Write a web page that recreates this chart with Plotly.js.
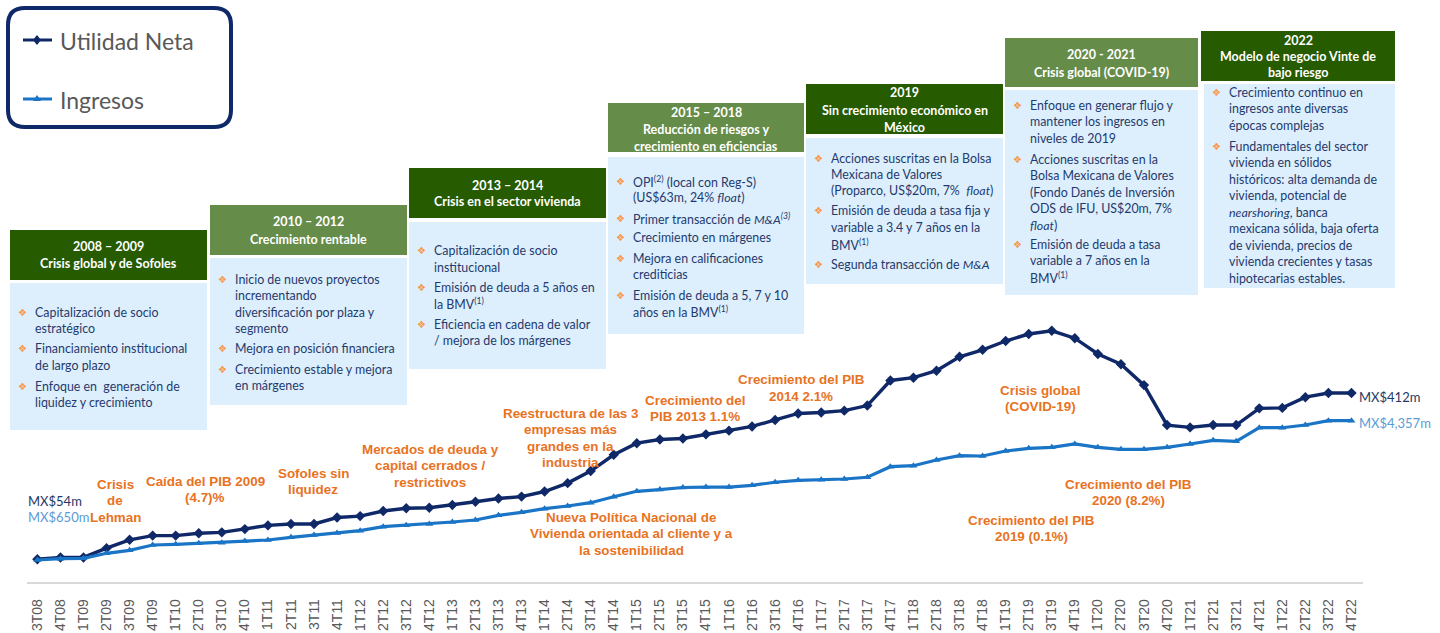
<!DOCTYPE html>
<html><head><meta charset="utf-8">
<script src="https://cdn.plot.ly/plotly-3.0.1.min.js"></script>
<style>html,body{margin:0;padding:0;background:#fff;} #chart{width:1440px;height:633px;}</style>
</head><body><div id="chart"></div>
<script>
const quarters = ["3T08","4T08","1T09","2T09","3T09","4T09","1T10","2T10","3T10","4T10","1T11","2T11","3T11","4T11","1T12","2T12","3T12","4T12","1T13","2T13","3T13","4T13","1T14","2T14","3T14","4T14","1T15","2T15","3T15","4T15","1T16","2T16","3T16","4T16","1T17","2T17","3T17","4T17","1T18","2T18","3T18","4T18","1T19","2T19","3T19","4T19","1T20","2T20","3T20","4T20","1T21","2T21","3T21","4T21","1T22","2T22","3T22","4T22"];
const utilidadNeta = [54,58,58,78,96,105,105,110,112,119,127,130,130,144,147,158,164,165,171,178,185,189,200,218,244,279,304,312,314,323,331,340,354,368,370,374,385,439,445,460,490,505,524,539,546,530,496,474,429,343,338,343,343,379,380,403,412,412];
const ingresos = [650,685,695,828,908,1049,1068,1094,1110,1156,1182,1254,1315,1368,1430,1536,1573,1608,1661,1714,1839,1919,2015,2087,2175,2334,2478,2523,2579,2590,2590,2638,2718,2771,2787,2805,2851,3133,3159,3311,3425,3417,3550,3622,3649,3737,3649,3596,3596,3649,3737,3835,3809,4170,4170,4242,4357,4357];
const seriesNames = ["Utilidad Neta","Ingresos"];
const startLabels = ["MX$54m","MX$650m"];
const endLabels = ["MX$412m","MX$4,357m"];

const periods = [
  {head:["2008 – 2009","Crisis global y de Sofoles"], dark:true,
   bullets:[["Capitalización de socio","estratégico"],["Financiamiento institucional","de largo plazo"],["Enfoque en  generación de","liquidez y crecimiento"]]},
  {head:["2010 – 2012","Crecimiento rentable"], dark:false,
   bullets:[["Inicio de nuevos proyectos","incrementando","diversificación por plaza y","segmento"],["Mejora en posición financiera"],["Crecimiento estable y mejora","en márgenes"]]},
  {head:["2013 – 2014","Crisis en el sector vivienda"], dark:true,
   bullets:[["Capitalización de socio","institucional"],["Emisión de deuda a 5 años en","la BMV<sup>(1)</sup>"],["Eficiencia en cadena de valor","/ mejora de los márgenes"]]},
  {head:["2015 – 2018","Reducción de riesgos y","crecimiento en eficiencias"], dark:false,
   bullets:[["OPI<sup>(2)</sup> (local con Reg-S)","(US$63m, 24% <i>float</i>)"],["Primer transacción de <i>M&A<sup>(3)</sup></i>"],["Crecimiento en márgenes"],["Mejora en calificaciones","crediticias"],["Emisión de deuda a 5, 7 y 10","años en la BMV<sup>(1)</sup>"]]},
  {head:["2019","Sin crecimiento económico en","México"], dark:true,
   bullets:[["Acciones suscritas en la Bolsa","Mexicana de Valores","(Proparco, US$20m, 7%  <i>float</i>)"],["Emisión de deuda a tasa fija y","variable a 3.4 y 7 años en la","BMV<sup>(1)</sup>"],["Segunda transacción de <i>M&A</i>"]]},
  {head:["2020 - 2021","Crisis global (COVID-19)"], dark:false,
   bullets:[["Enfoque en generar flujo y","mantener los ingresos en","niveles de 2019"],["Acciones suscritas en la","Bolsa Mexicana de Valores","(Fondo Danés de Inversión","ODS de IFU, US$20m, 7%","<i>float</i>)"],["Emisión de deuda a tasa","variable a 7 años en la","BMV<sup>(1)</sup>"]]},
  {head:["2022","Modelo de negocio Vinte de","bajo riesgo"], dark:true,
   bullets:[["Crecimiento continuo en","ingresos ante diversas","épocas complejas"],["Fundamentales del sector","vivienda en sólidos","históricos: alta demanda de","vivienda, potencial de","<i>nearshoring</i>, banca","mexicana sólida, baja oferta","de vivienda, precios de","vivienda crecientes y tasas","hipotecarias estables."]]}
];

const events = [
  {text:["Crisis","de","Lehman"], x:115, y:484},
  {text:["Caída del PIB 2009","(4.7)%"], x:205, y:481},
  {text:["Sofoles sin","liquidez"], x:313, y:473},
  {text:["Mercados de deuda y","capital cerrados /","restrictivos"], x:430, y:449},
  {text:["Reestructura de las 3","empresas más","grandes en la","industria"], x:570, y:413},
  {text:["Crecimiento del","PIB 2013 1.1%"], x:695, y:400},
  {text:["Crecimiento del PIB","2014 2.1%"], x:801, y:380},
  {text:["Crisis global","(COVID-19)"], x:1040, y:390},
  {text:["Crecimiento del PIB","2020 (8.2%)"], x:1128, y:484},
  {text:["Crecimiento del PIB","2019 (0.1%)"], x:1031, y:520},
  {text:["Nueva Política Nacional de","Vivienda orientada al cliente y a","la sostenibilidad"], x:631, y:517}
];

// ---------- layout geometry (pixels) ----------
const L=27, T=20, W=1336, H=562;
const px = x => (x-L)/W;
const py = y => (T+H-y)/H;
const DARK="#0f2868", LIGHT="#1b75c6";
const GDARK="#265b00", GLIGHT="#668c4a", BODY="#ddeffc", NAVY="#1f3a6e", ORANGE="#e8731f";
const BODYFONT="Lato, 'Open Sans', sans-serif";

const boxGeom = [
  {x0:10,x1:207,hy0:230,hy1:280,by0:283,by1:430,hl:[246,263],bl:[312,349,386]},
  {x0:210,x1:407,hy0:205,hy1:255,by0:258,by1:405,hl:[222,239],bl:[279,348,369]},
  {x0:409,x1:606,hy0:168,hy1:218,by0:222,by1:369,hl:[185,202],bl:[251,287,324]},
  {x0:608,x1:804,hy0:103,hy1:152,by0:157,by1:334,hl:[112,129,146],bl:[181,218,238,258,295]},
  {x0:806,x1:1003,hy0:84,hy1:134,by0:138,by1:284,hl:[93,110,127],bl:[158,211,264]},
  {x0:1005,x1:1198,hy0:38,hy1:87,by0:90,by1:295,hl:[55,72],bl:[105,159,244]},
  {x0:1201,x1:1395,hy0:31,hy1:81,by0:84,by1:288,hl:[40,57,73],bl:[92,146]}
];
const LH=16.5;

const shapes=[], annotations=[];
function rect(x0,y0,x1,y1,color){
  shapes.push({type:'rect',xref:'paper',yref:'paper',x0:px(x0),x1:px(x1),y0:py(y1),y1:py(y0),fillcolor:color,line:{width:0},layer:'below'});
}
function txt(t,x,y,font,xanchor){
  annotations.push({text:t,xref:'paper',yref:'paper',x:px(x),y:py(y),xanchor:xanchor||'center',yanchor:'middle',showarrow:false,font:font,borderpad:0});
}

periods.forEach((p,i)=>{
  const g=boxGeom[i];
  rect(g.x0,g.hy0,g.x1,g.hy1,p.dark?GDARK:GLIGHT);
  const bx0 = i===6 ? 1204 : g.x0;
  rect(bx0,g.by0,g.x1,g.by1,BODY);
  const cx=(g.x0+g.x1)/2;
  p.head.forEach((line,k)=>txt('<b>'+line+'</b>',cx,g.hl[k],{family:BODYFONT,size:12.5,color:'#ffffff'}));
  p.bullets.forEach((b,k)=>{
    const y0=g.bl[k];
    txt('❖',bx0+12,y0,{family:'DejaVu Sans',size:10,color:'#f79646'},'center');
    b.forEach((line,m)=>txt(line,bx0+24,y0+m*LH,{family:BODYFONT,size:12.4,color:NAVY},'left'));
  });
});

events.forEach(e=>{
  e.text.forEach((line,m)=>txt('<b>'+line+'</b>',e.x,e.y+m*16.5,{family:"'Liberation Sans', Arial, sans-serif",size:13.4,color:ORANGE},'center'));
});

// start / end labels
txt(startLabels[0],27,501,{family:BODYFONT,size:13,color:'#1f3864'},'left');
txt(startLabels[1],27,517,{family:BODYFONT,size:13,color:'#5b9bd5'},'left');
txt(endLabels[0],1358,397,{family:BODYFONT,size:13,color:'#1f3864'},'left');
txt(endLabels[1],1358,423,{family:BODYFONT,size:13,color:'#5b9bd5'},'left');

// legend box
(function(){
  const x0=8,y0=8,x1=231,y1=127,r=17;
  const P=(x,y)=>px(x)+','+py(y);
  const path='M'+P(x0+r,y0)+' L'+P(x1-r,y0)+' Q'+P(x1,y0)+' '+P(x1,y0+r)+' L'+P(x1,y1-r)+' Q'+P(x1,y1)+' '+P(x1-r,y1)+' L'+P(x0+r,y1)+' Q'+P(x0,y1)+' '+P(x0,y1-r)+' L'+P(x0,y0+r)+' Q'+P(x0,y0)+' '+P(x0+r,y0)+' Z';
  shapes.push({type:'path',xref:'paper',yref:'paper',path:path,line:{color:DARK,width:4},fillcolor:'rgba(0,0,0,0)'});
  shapes.push({type:'line',xref:'paper',yref:'paper',x0:px(23),x1:px(52),y0:py(40),y1:py(40),line:{color:DARK,width:3}});
  shapes.push({type:'path',xref:'paper',yref:'paper',path:'M'+P(37,35)+' L'+P(41,40)+' L'+P(37,45)+' L'+P(33,40)+' Z',fillcolor:DARK,line:{width:0}});
  shapes.push({type:'line',xref:'paper',yref:'paper',x0:px(23),x1:px(52),y0:py(99),y1:py(99),line:{color:LIGHT,width:3}});
  shapes.push({type:'path',xref:'paper',yref:'paper',path:'M'+P(37,95)+' L'+P(41,101)+' L'+P(33,101)+' Z',fillcolor:LIGHT,line:{width:0}});
  txt(seriesNames[0],59,41,{family:BODYFONT,size:23,color:'#595959'},'left');
  txt(seriesNames[1],59,100,{family:BODYFONT,size:23,color:'#595959'},'left');
})();

const traces=[
  {x:quarters,y:ingresos,name:seriesNames[1],type:'scatter',mode:'lines+markers',yaxis:'y2',
   line:{color:LIGHT,width:3.2},marker:{symbol:'triangle-up',size:7,color:LIGHT}},
  {x:quarters,y:utilidadNeta,name:seriesNames[0],type:'scatter',mode:'lines+markers',yaxis:'y',
   line:{color:DARK,width:3.4},marker:{symbol:'diamond',size:8,color:DARK}}
];

const layout={
  width:1440,height:633,margin:{l:L,r:1440-L-W,t:T,b:633-T-H},
  paper_bgcolor:'#ffffff',plot_bgcolor:'#ffffff',showlegend:false,
  xaxis:{type:'category',range:[-0.45,57.5],showline:true,linecolor:'#d9d9d9',linewidth:1.5,showgrid:false,zeroline:false,ticks:'',
    tickangle:-90,ticklabelstandoff:10,tickfont:{family:"'Liberation Sans', Arial, sans-serif",size:14,color:'#595959'},automargin:false,fixedrange:true},
  yaxis:{range:[5.13,1215.1],visible:false,fixedrange:true},
  yaxis2:{range:[64.6,15019],overlaying:'y',visible:false,fixedrange:true},
  shapes:shapes,annotations:annotations
};
Plotly.newPlot('chart',traces,layout,{displayModeBar:false,staticPlot:true});
</script></body></html>
